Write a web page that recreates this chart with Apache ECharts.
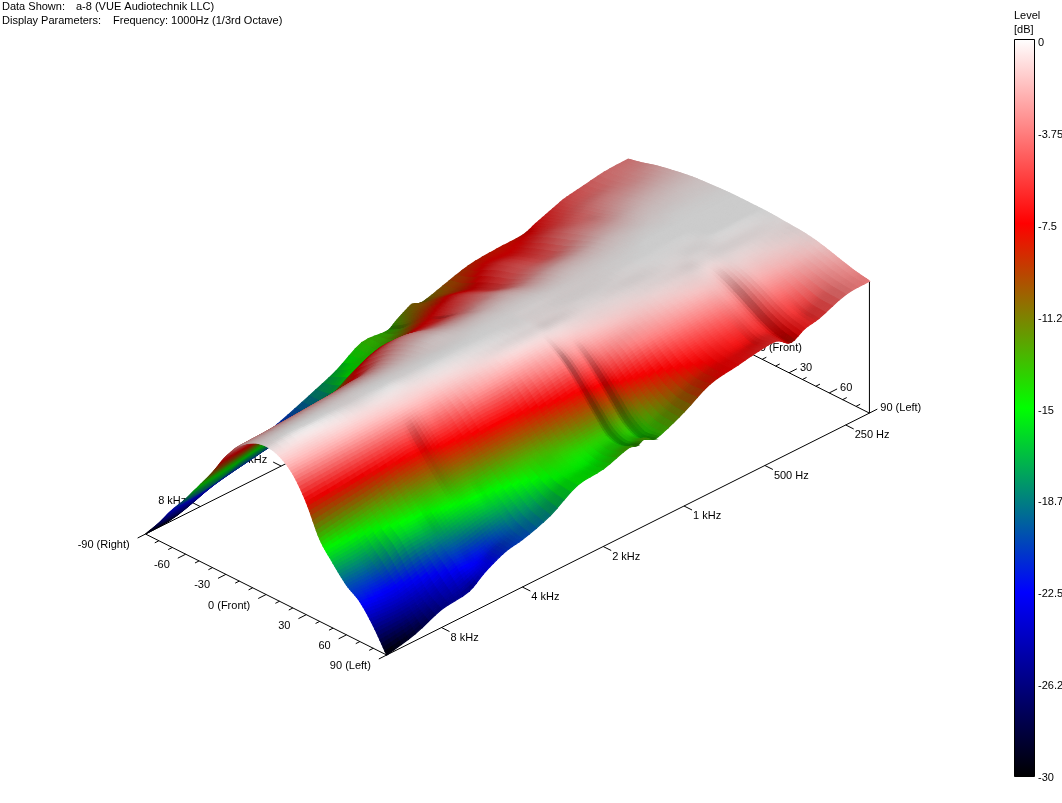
<!DOCTYPE html>
<html><head><meta charset="utf-8">
<style>html,body{margin:0;padding:0;background:#fff}#c{width:1062px;height:803px}</style>
<script src="https://cdn.jsdelivr.net/npm/echarts@6/dist/echarts.min.js"></script>
</head><body><div id="c"></div>
<script>
// ---- data ----
const angles = [-90,-80,-70,-60,-50,-40,-30,-20,-10,0,10,20,30,40,50,60,70,80,90];
const frequencies = [12800,10000,8000,6300,5600,5000,4500,4000,3150,2500,2000,1600,1500,1400,1300,1200,1000,800,630,500,450,400,355,315,250,204];
const L12800=[-30,-26.5,-22.5,-19,-15,-11,-6.5,-3,-1,-0.3,-1.0,-3.2,-7.5,-13.5,-17,-20,-22,-25.5,-30];
const L10000=[-29.5,-26,-22,-18.5,-14,-10,-6,-2.8,-.8,0,-1,-3,-7,-12.5,-16.5,-19.5,-22.5,-25.5,-28.6];
const L8000=[-27,-24,-21,-17,-13,-9,-5.5,-2.5,-.7,0,-.8,-2.8,-6.5,-11.5,-14.6,-17,-21,-24.5,-26.4];
const L6300=[-25,-23,-20,-16,-12,-8.5,-5,-2.2,-.6,-.2,-.8,-2.6,-6,-10,-13.5,-16.6,-19.5,-22,-25.5];
const L5600=[-24,-22.5,-19.5,-15.5,-11.8,-8.2,-4.8,-2.1,-.5,-.1,-.7,-2.4,-5.6,-9.4,-12.7,-15.6,-18.8,-22,-23.5];
const L5000=[-23.5,-22,-19,-15,-11.5,-8,-4.5,-2,-.5,0,-.6,-2.2,-5.6,-9,-12.2,-15,-18,-21.5,-22];
const L4500=[-22,-21,-18,-14.5,-11,-7.8,-4.2,-1.9,-.5,0,-.6,-2,-4.6,-8,-11.2,-14.4,-17.4,-20.5,-21];
const L4000=[-21,-20,-17.5,-14,-10.5,-7.5,-4,-1.8,-.5,-.1,-.6,-2,-4.5,-7.6,-10.8,-14.4,-17,-19.5,-20.5];
const L3150=[-18.8,-18.5,-16.5,-11,-7,-4.5,-2.5,-1.2,-.4,0,-.4,-1.6,-3.4,-6.5,-10,-13,-15.5,-17.5,-18.5];
const L2500=[-16.5,-15,-13.5,-8.5,-5.5,-3,-1.6,-.6,-.3,0,-.3,-1.2,-3,-6.4,-9.5,-12.5,-14,-15,-15.2];
const L2000=[-13.4,-13.5,-12,-8.5,-6,-4,-2.2,-.9,-.2,0,-.2,-.8,-2.6,-5,-8.5,-11.5,-14,-15,-14.5];
const L1600=[-13.6,-12,-9.5,-7.5,-6,-4,-2.2,-.8,-.2,-.1,-.2,-.6,-2,-4,-7.5,-10.5,-13.5,-14,-12.8];
const L1500=[-12.6,-11,-9,-7,-5.4,-3.8,-2,-.8,-.2,-.1,-.2,-.6,-2,-4.2,-7.3,-10.6,-13.6,-14.4,-13.2];
const L1400=[-11.6,-10.2,-8.4,-6.5,-5,-3.4,-1.8,-.7,-.2,-.2,-.3,-.5,-1.7,-3.6,-6.5,-9.6,-12.6,-13.8,-12.6];
const L1300=[-10.8,-9.8,-8,-6,-4.6,-3.2,-1.7,-.7,-.2,-.2,-.3,-.5,-1.6,-3.6,-6.4,-9.6,-12.8,-14.4,-13.6];
const L1200=[-11.4,-9.5,-7.5,-5.8,-4.4,-3,-1.6,-.7,-.2,-.2,-.3,-.5,-1.4,-3.1,-5.4,-8.4,-11.4,-13.2,-13.2];
const L1000=[-10.2,-9.5,-8,-6.6,-5.4,-3.8,-2.2,-1,-.3,-.2,-.2,-.5,-1.2,-2.5,-4,-7,-9.5,-11,-11.2];
const L800=[-8.7,-7.5,-6,-5,-4.2,-3,-1.6,-.7,-.3,-.2,-.2,-.4,-1,-2,-3.4,-5.5,-7.5,-8.6,-8.2];
const L630=[-8.2,-7.5,-6.4,-5.4,-4.4,-2.8,-1.4,-.6,-.2,-.1,-.2,-.3,-.7,-1.6,-3,-4.8,-6.4,-7.2,-7.2];
const L500=[-8,-6.5,-5,-3.8,-2.8,-1.8,-.9,-.4,-.1,0,-.1,-.3,-.6,-1.3,-2.6,-4.2,-5.8,-7,-6.3];
const L450=[-7,-6,-4.8,-3.6,-2.6,-1.6,-.8,-.3,0,0,-.1,-.3,-.5,-1.2,-2.3,-3.8,-5.2,-6.3,-6.3];
const L400=[-6,-5.2,-4.2,-3.4,-2.4,-1.4,-.7,-.2,0,0,-.1,-.2,-.6,-1.6,-3,-4.6,-6.2,-7.4,-8];
const L355=[-5,-4.4,-3.4,-2.6,-1.8,-1,-.5,-.2,0,0,-.1,-.2,-.4,-1,-2,-3.4,-4.9,-6,-6.6];
const L315=[-4.5,-4,-3,-2.2,-1.4,-.8,-.4,-.1,0,0,0,-.2,-.4,-1,-1.9,-3.2,-4.6,-5.8,-6];
const L250=[-3.6,-3.2,-2.6,-1.8,-1.1,-.6,-.3,-.1,0,0,0,-.2,-.4,-.8,-1.5,-2.4,-3.2,-3.7,-3.9];
const L204=[-3.4,-2.8,-2,-1.4,-.9,-.5,-.3,-.1,0,0,0,-.1,-.3,-.5,-.9,-1.6,-2.4,-3.1,-3.6];
const levelRows=[L12800,L10000,L8000,L6300,L5600,L5000,L4500,L4000,L3150,L2500,L2000,L1600,L1500,L1400,L1300,L1200,L1000,L800,L630,L500,L450,L400,L355,L315,L250,L204];
const freqTicks=[8000,4000,2000,1000,500,250];
const freqTickLabels=['8 kHz','4 kHz','2 kHz','1 kHz','500 Hz','250 Hz'];
const angleTicks=[-90,-80,-70,-60,-50,-40,-30,-20,-10,0,10,20,30,40,50,60,70,80,90];
const angleLabels={'-90':'-90 (Right)','-60':'-60','-30':'-30','0':'0 (Front)','30':'30','60':'60','90':'90 (Left)'};
const levelTickLabels=['-30','-26.2','-22.5','-18.7','-15','-11.2','-7.5','-3.75','0'];
const rampColors=['#000000','#000080','#0000ff','#008080','#00ff00','#808000','#ff0000','#ff8080','#ffffff'];
const wallTopLevel=-3.7;

// ---- oblique projection of (frequency, angle, level) onto the picture plane ----
const P={ox:386.7,oy:655,fx:80.84,fy:-40.51,ax:1.34,ay:0.672,h:5};
function octaves(f){return Math.log2(12800/f);}
function project(o,a,L){
  return [P.ox+P.fx*o+P.ax*(a-90), P.oy+P.fy*o+P.ay*(a-90)-(L+30)*P.h];
}
const rampRGB=rampColors.map(c=>[parseInt(c.slice(1,3),16),parseInt(c.slice(3,5),16),parseInt(c.slice(5,7),16)]);
function ramp(L,s){
  const t=Math.max(0,Math.min(7.9999,(L+30)/3.75)),i=Math.floor(t),k=t-i;
  const A=rampRGB[i],B=rampRGB[i+1];
  return 'rgb('+[0,1,2].map(n=>Math.round((A[n]+(B[n]-A[n])*k)*s)).join(',')+')';
}
// smooth drawing mesh through the read values (curved facets between them)
function curve(xs,ys,x){
  let k=0;while(k<xs.length-2&&x>xs[k+1])k++;
  const h=xs[k+1]-xs[k],t=(x-xs[k])/h;
  const sl=i=>{const a=Math.max(0,i-1),b=Math.min(xs.length-1,i+1);return (ys[b]-ys[a])/(xs[b]-xs[a]);};
  const m0=sl(k)*h,m1=sl(k+1)*h,t2=t*t,t3=t2*t;
  return (2*t3-3*t2+1)*ys[k]+(t3-2*t2+t)*m0+(-2*t3+3*t2)*ys[k+1]+(t3-t2)*m1;
}
const SUB_A=8,SUB_F=4;
const rowO=frequencies.map(octaves);
const nR=frequencies.length,nA=angles.length;
const meshO=[],meshA=[];
for(let i=0;i<nR-1;i++)for(let u=0;u<SUB_F;u++)meshO.push(rowO[i]+(rowO[i+1]-rowO[i])*u/SUB_F);
meshO.push(rowO[nR-1]);
for(let j=0;j<nA-1;j++)for(let v=0;v<SUB_A;v++)meshA.push(angles[j]+(angles[j+1]-angles[j])*v/SUB_A);
meshA.push(angles[nA-1]);
const rowsOnMesh=levelRows.map(r=>meshA.map(a=>curve(angles,r,a)));
const mesh=meshO.map(o=>meshA.map((a,v)=>Math.min(0,Math.max(-30,curve(rowO,rowsOnMesh.map(r=>r[v]),o)))));
const shade=mesh.map((row,u)=>row.map((val,v)=>{
  const v0=Math.max(0,v-1),v1=Math.min(meshA.length-1,v+1),u0=Math.max(0,u-1),u1=Math.min(meshO.length-1,u+1);
  const gA=(row[v1]-row[v0])*P.h/((meshA[v1]-meshA[v0])*1.5);
  const gF=(mesh[u1][v]-mesh[u0][v])*P.h/((meshO[u1]-meshO[u0])*90);
  const n=Math.hypot(gA,gF,1);
  const nl=(-gA*0.6-gF*0.05+0.8)/n;
  let s=nl>=0.8?nl:0.8-(0.8-nl)*0.22;
  const dO0=meshO[u]-meshO[u0]||1,dO1=meshO[u1]-meshO[u]||1;
  const curv=(u0===u||u1===u)?0:2*((mesh[u1][v]-val)/dO1-(val-mesh[u0][v])/dO0)/(dO0+dO1);
  s*=1-Math.min(0.3,Math.max(0,curv-25)*0.0025);
  return Math.min(1,Math.max(0.3,s));
}));
const cells=[];
for(let i=nR-2;i>=0;i--)for(let j=0;j<nA-1;j++)cells.push([i,j]);
function surfaceItem(params,api){
  const i=api.value(0),j=api.value(1),children=[];
  const pt=(u,v)=>api.coord(project(meshO[u],meshA[v],mesh[u][v]));
  for(let u=(i+1)*SUB_F-1;u>=i*SUB_F;u--)for(let v=j*SUB_A;v<(j+1)*SUB_A;v++){
    const L=(mesh[u][v]+mesh[u+1][v]+mesh[u][v+1]+mesh[u+1][v+1])/4;
    const s=(shade[u][v]+shade[u+1][v]+shade[u][v+1]+shade[u+1][v+1])/4;
    const c=ramp(L,s);
    children.push({type:'polygon',shape:{points:[pt(u,v),pt(u+1,v),pt(u+1,v+1),pt(u,v+1)]},
      style:{fill:c,stroke:c,lineWidth:1.2},silent:true});
  }
  return {type:'group',children};
}
const FONT='11px "Liberation Sans", Arial, sans-serif';
function line(p,q){return {type:'line',shape:{x1:p[0],y1:p[1],x2:q[0],y2:q[1]},style:{stroke:'#000',lineWidth:1},silent:true};}
function text(x,y,t,align){return {type:'text',style:{x,y,text:t,font:FONT,fill:'#000',align:align||'left',verticalAlign:'middle'},silent:true};}
const oMax=octaves(204),floor=-30;
function axesItem(params,api){
  const c=p=>api.coord(p),ch=[];
  const A=project(0,-90,floor),B=project(0,90,floor),C=project(oMax,90,floor),D=project(oMax,-90,floor);
  ch.push(line(c(A),c(B)),line(c(B),c(C)),line(c(A),c(D)),line(c(D),c(C)),line(c(C),c(project(oMax,90,wallTopLevel))));
  angleTicks.forEach(a=>{
    const lab=angleLabels[a],len=lab?1.05:0.55;
    const p=project(0,a,floor),q=[p[0]-7.5*len,p[1]+3.8*len];
    ch.push(line(c(p),c(q)));
    if(lab){const e=c(q);ch.push(text(e[0]-8,e[1]+7,lab,'right'));}
    const p2=project(oMax,a,floor),q2=[p2[0]+7.5*len,p2[1]-3.8*len];
    ch.push(line(c(p2),c(q2)));
    if(lab){const e=c(q2);ch.push(text(e[0]+3,e[1]-1,lab,'left'));}
  });
  freqTicks.forEach((f,k)=>{
    const o=octaves(f);
    const p=project(o,90,floor),q=[p[0]+8,p[1]+4];
    ch.push(line(c(p),c(q)));
    const e=c(q);ch.push(text(e[0]+1,e[1]+6,freqTickLabels[k],'left'));
    const p2=project(o,-90,floor),q2=[p2[0]-8,p2[1]-4];
    ch.push(line(c(p2),c(q2)));
    const e2=c(q2);ch.push(text(e2[0]-6,e2[1]-2,freqTickLabels[k],'right'));
  });
  return {type:'group',children:ch};
}
function colorbarItem(params,api){
  const a=api.coord([0,0]),b=api.coord([1,-30]);
  return {type:'rect',shape:{x:a[0],y:a[1],width:b[0]-a[0],height:b[1]-a[1]},silent:true,style:{
    stroke:'#000',lineWidth:1,
    fill:{type:'linear',x:0,y:1,x2:0,y2:0,colorStops:rampColors.map((c,i)=>({offset:i/(rampColors.length-1),color:c}))}}};
}
const chart=echarts.init(document.getElementById('c'),null,{renderer:'canvas'});
chart.setOption({
  animation:false,
  tooltip:{show:false},
  grid:[{left:0,top:0,width:1062,height:803,show:false,outerBoundsMode:'none'},
        {left:1014.5,top:39.5,width:20,height:737,show:false,outerBoundsMode:'none'},
        {left:1014.5,top:43,width:20,height:735,show:false,outerBoundsMode:'none'}],
  xAxis:[{type:'value',min:0,max:1062,show:false,gridIndex:0},{type:'value',min:0,max:1,show:false,gridIndex:1},{type:'value',min:0,max:1,show:false,gridIndex:2}],
  yAxis:[{type:'value',min:0,max:803,inverse:true,show:false,gridIndex:0},
    {type:'value',min:-30,max:0,show:false,gridIndex:1},
    {type:'value',min:-30,max:0,interval:3.75,gridIndex:2,position:'right',splitLine:{show:false},axisLine:{show:false},axisTick:{show:false},
     axisLabel:{show:true,margin:3.5,color:'#000',fontSize:11,fontFamily:'Liberation Sans',
       formatter:(v,i)=>levelTickLabels[i]}}],
  graphic:[
    {type:'text',left:2,top:1,style:{text:'Data Shown:',font:FONT,fill:'#000'}},
    {type:'text',left:76,top:1,style:{text:'a-8 (VUE Audiotechnik LLC)',font:FONT,fill:'#000'}},
    {type:'text',left:2,top:15,style:{text:'Display Parameters:',font:FONT,fill:'#000'}},
    {type:'text',left:113,top:15,style:{text:'Frequency: 1000Hz (1/3rd Octave)',font:FONT,fill:'#000'}},
    {type:'text',left:1014,top:10,style:{text:'Level',font:FONT,fill:'#000'}},
    {type:'text',left:1014,top:24,style:{text:'[dB]',font:FONT,fill:'#000'}}
  ],
  series:[
    {type:'custom',name:'axes',coordinateSystem:'cartesian2d',xAxisIndex:0,yAxisIndex:0,z:1,clip:false,renderItem:axesItem,data:[[0]],silent:true},
    {type:'custom',name:'surface',coordinateSystem:'cartesian2d',xAxisIndex:0,yAxisIndex:0,z:2,clip:false,renderItem:surfaceItem,data:cells,silent:true,progressive:0,encode:{x:0,y:1}},
    {type:'custom',name:'scale',coordinateSystem:'cartesian2d',xAxisIndex:1,yAxisIndex:1,z:2,clip:false,renderItem:colorbarItem,data:[[0]],silent:true}
  ]
});
</script></body></html>
